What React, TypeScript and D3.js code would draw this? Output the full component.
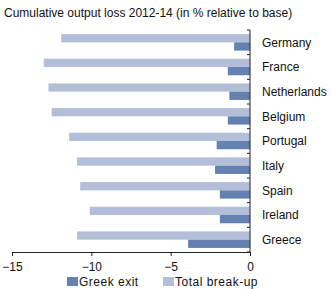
import React, { useEffect, useRef } from 'react';
import * as d3 from 'd3';

const countries = ['Germany', 'France', 'Netherlands', 'Belgium', 'Portugal', 'Italy', 'Spain', 'Ireland', 'Greece'];
const totalBreakUp = [-11.9, -13.0, -12.7, -12.5, -11.4, -10.9, -10.7, -10.1, -10.9];
const greekExit = [-1.0, -1.4, -1.3, -1.4, -2.1, -2.2, -1.9, -1.9, -3.9];
const xTicks = [-15, -10, -5, 0];
const seriesNames = ['Greek exit', 'Total break-up'];

const DARK = '#6581b2';
const LIGHT = '#b3bfd8';
const FONT = 'Liberation Sans, Arial, sans-serif';

const App: React.FC = () => {
  const svgRef = useRef<SVGSVGElement>(null);
  const width = 332;
  const height = 289;
  const margin = { top: 30, right: 82, bottom: 37, left: 12 };

  useEffect(() => {
    if (!svgRef.current) return;
    const svg = d3.select(svgRef.current);
    svg.selectAll('*').remove();

    const innerWidth = width - margin.left - margin.right;
    const innerHeight = height - margin.top - margin.bottom;

    // Title
    svg.append('text')
      .attr('x', 4)
      .attr('y', 17)
      .attr('font-size', '12px')
      .attr('font-family', FONT)
      .attr('fill', '#111')
      .text('Cumulative output loss 2012-14 (in % relative to base)');

    const g = svg.append('g').attr('transform', `translate(${margin.left},${margin.top})`);

    const x = d3.scaleLinear().domain([-15, 0]).range([0, innerWidth]);
    const y = d3.scaleBand<string>().domain(countries).range([0, innerHeight]).paddingInner(0.33).paddingOuter(0.165);
    const sub = d3.scaleBand<string>().domain(['total', 'greek']).range([0, y.bandwidth()]);

    countries.forEach((c, i) => {
      g.append('rect')
        .attr('x', x(totalBreakUp[i]))
        .attr('y', (y(c) ?? 0) + (sub('total') ?? 0))
        .attr('width', x(0) - x(totalBreakUp[i]))
        .attr('height', sub.bandwidth())
        .attr('fill', LIGHT);
      g.append('rect')
        .attr('x', x(greekExit[i]))
        .attr('y', (y(c) ?? 0) + (sub('greek') ?? 0))
        .attr('width', x(0) - x(greekExit[i]))
        .attr('height', sub.bandwidth())
        .attr('fill', DARK);
    });

    // x-axis
    const xAxis = g.append('g')
      .attr('transform', `translate(0,${innerHeight})`)
      .call(d3.axisBottom(x).tickValues(xTicks).tickSize(4).tickPadding(6).tickSizeOuter(0));
    xAxis.select('.domain').attr('stroke', '#222');
    xAxis.selectAll('.tick line').attr('stroke', '#222');
    xAxis.selectAll('.tick text')
      .attr('font-size', '12px')
      .attr('font-family', FONT)
      .attr('fill', '#111');

    // y-axis at zero with category boundary ticks
    const yAxis = g.append('g').attr('transform', `translate(${x(0)},0)`);
    yAxis.append('line')
      .attr('y1', 0).attr('y2', innerHeight)
      .attr('stroke', '#222');
    const step = y.step();
    d3.range(countries.length + 1).forEach((k) => {
      yAxis.append('line')
        .attr('x1', -3).attr('x2', 0)
        .attr('y1', k * step).attr('y2', k * step)
        .attr('stroke', '#222');
    });
    countries.forEach((c) => {
      yAxis.append('text')
        .attr('x', 12)
        .attr('y', (y(c) ?? 0) + y.bandwidth() / 2)
        .attr('dy', '0.35em')
        .attr('font-size', '12px')
        .attr('font-family', FONT)
        .attr('fill', '#111')
        .text(c);
    });

    // legend
    const legend = svg.append('g').attr('transform', `translate(67,277)`);
    const legendX = [0, 96];
    seriesNames.forEach((name, i) => {
      const lg = legend.append('g').attr('transform', `translate(${legendX[i]},0)`);
      lg.append('rect').attr('width', 11).attr('height', 9).attr('fill', i === 0 ? DARK : LIGHT);
      lg.append('text')
        .attr('x', 12)
        .attr('y', 4.5)
        .attr('dy', '0.35em')
        .attr('font-size', '12px')
        .attr('letter-spacing', '0.5px')
        .attr('font-family', FONT)
        .attr('fill', '#111')
        .text(name);
    });
  }, []);

  return (
    <svg
      ref={svgRef}
      width={width}
      height={height}
      style={{ position: 'absolute', left: 0, top: 0, background: '#fff' }}
    />
  );
};

export default App;
